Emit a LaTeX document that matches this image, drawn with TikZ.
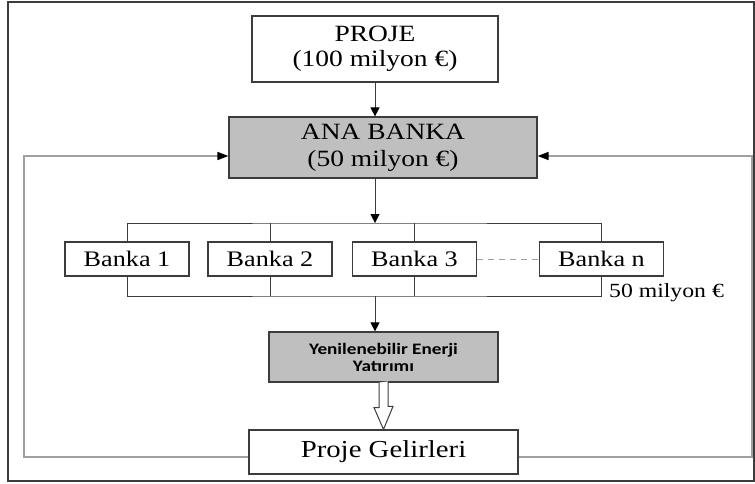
\documentclass[tikz,border=0pt]{standalone}
\usepackage{fontspec}
\setmainfont{Liberation Serif}[FakeStretch=1.18]
\newfontfamily\yenfont{Carlito}[FakeStretch=1.2]
\usetikzlibrary{arrows.meta}
\definecolor{boxgray}{RGB}{191,191,191}
\definecolor{edgegray}{RGB}{60,60,60}
\definecolor{loopgray}{RGB}{160,160,160}

\begin{document}
\begin{tikzpicture}[x=1pt,y=-1pt,
  box/.style={draw=edgegray,line width=1.2pt,inner sep=0pt,align=center,
    font=\fontsize{23.3}{25}\selectfont},
  bank/.style={box,minimum width=124pt,minimum height=34pt,
    font=\fontsize{22.2}{24}\selectfont},
  arr/.style={draw=edgegray,line width=1pt,-{Triangle[length=9pt,width=9pt,color=black]}},
  bus/.style={draw=edgegray,line width=1pt},
  fback/.style={draw=loopgray,line width=1.5pt,-{Triangle[length=11pt,width=8pt,color=black]}}]
  \useasboundingbox (0,0) rectangle (755,483);
  % outer frame
  \draw[edgegray,line width=1.8pt] (8,2) rectangle (754,481);
  % boxes
  \node[box,minimum width=246pt,minimum height=66pt] (proje) at(375,49){PROJE\\(100 milyon €)};
  \node[box,fill=boxgray,minimum width=308pt,minimum height=61pt,
    font=\fontsize{23.3}{27}\selectfont] (ana) at(383,147.5){ANA BANKA\\(50 milyon €)};
  \node[bank] (b1) at(127,259){Banka 1};
  \node[bank] (b2) at(270,259){Banka 2};
  \node[bank] (b3) at(414.5,259){Banka 3};
  \node[bank] (bn) at(601.5,259){Banka n};
  \node[anchor=base west,inner sep=0pt,font=\fontsize{20.1}{22}\selectfont] (sum) at(609,297){50 milyon €};
  \node[box,fill=boxgray,minimum width=229pt,minimum height=50pt,
    font=\yenfont\bfseries\fontsize{16}{17}\selectfont] (yen) at(383.5,357){Yenilenebilir Enerji\\Yatırımı};
  \node[box,minimum width=269pt,minimum height=44pt,
    font=\fontsize{24.4}{26}\selectfont] (gel) at(383.5,452){Proje Gelirleri};
  \coordinate (bustop) at(375,223);
  \coordinate (busbot) at(375,296);
  \coordinate (lcorner) at(24,300);
  \coordinate (rcorner) at(752,300);
  % main flow
  \draw[arr] (proje.south) -- (proje.south |- ana.north);
  \draw[arr] (ana.south -| bustop) -- (bustop);
  % bank bus
  \draw[bus] (b1.north) |- (bustop) -| (bn.north);
  \draw[bus] (b1.south) |- (busbot) -| (bn.south);
  \foreach \b in {b2,b3}{
    \draw[bus] (\b.north) -- (\b.north |- bustop);
    \draw[bus] (\b.south) -- (\b.south |- busbot);
  }
  \draw[loopgray,line width=1pt,dash pattern=on 6pt off 5pt] (b3.east) -- (bn.west);
  \draw[arr] (busbot) -- (busbot |- yen.north);
  % hollow arrow to revenues
  \draw[edgegray,line width=1pt,fill=white] ([xshift=-4.5pt]yen.south) -- ++(0,25) -- ++(-5,0)
    -- (gel.north) -- ++(9.5,-23) -- ++(-5,0) -- ++(0,-25);
  % revenues back to the main bank
  \draw[fback] ([yshift=-5pt]gel.west) -| (lcorner) |- ([yshift=-8.5pt]ana.west);
  \draw[fback] ([yshift=-5pt]gel.east) -| (rcorner) |- ([yshift=-8.5pt]ana.east);
\end{tikzpicture}
\end{document}
